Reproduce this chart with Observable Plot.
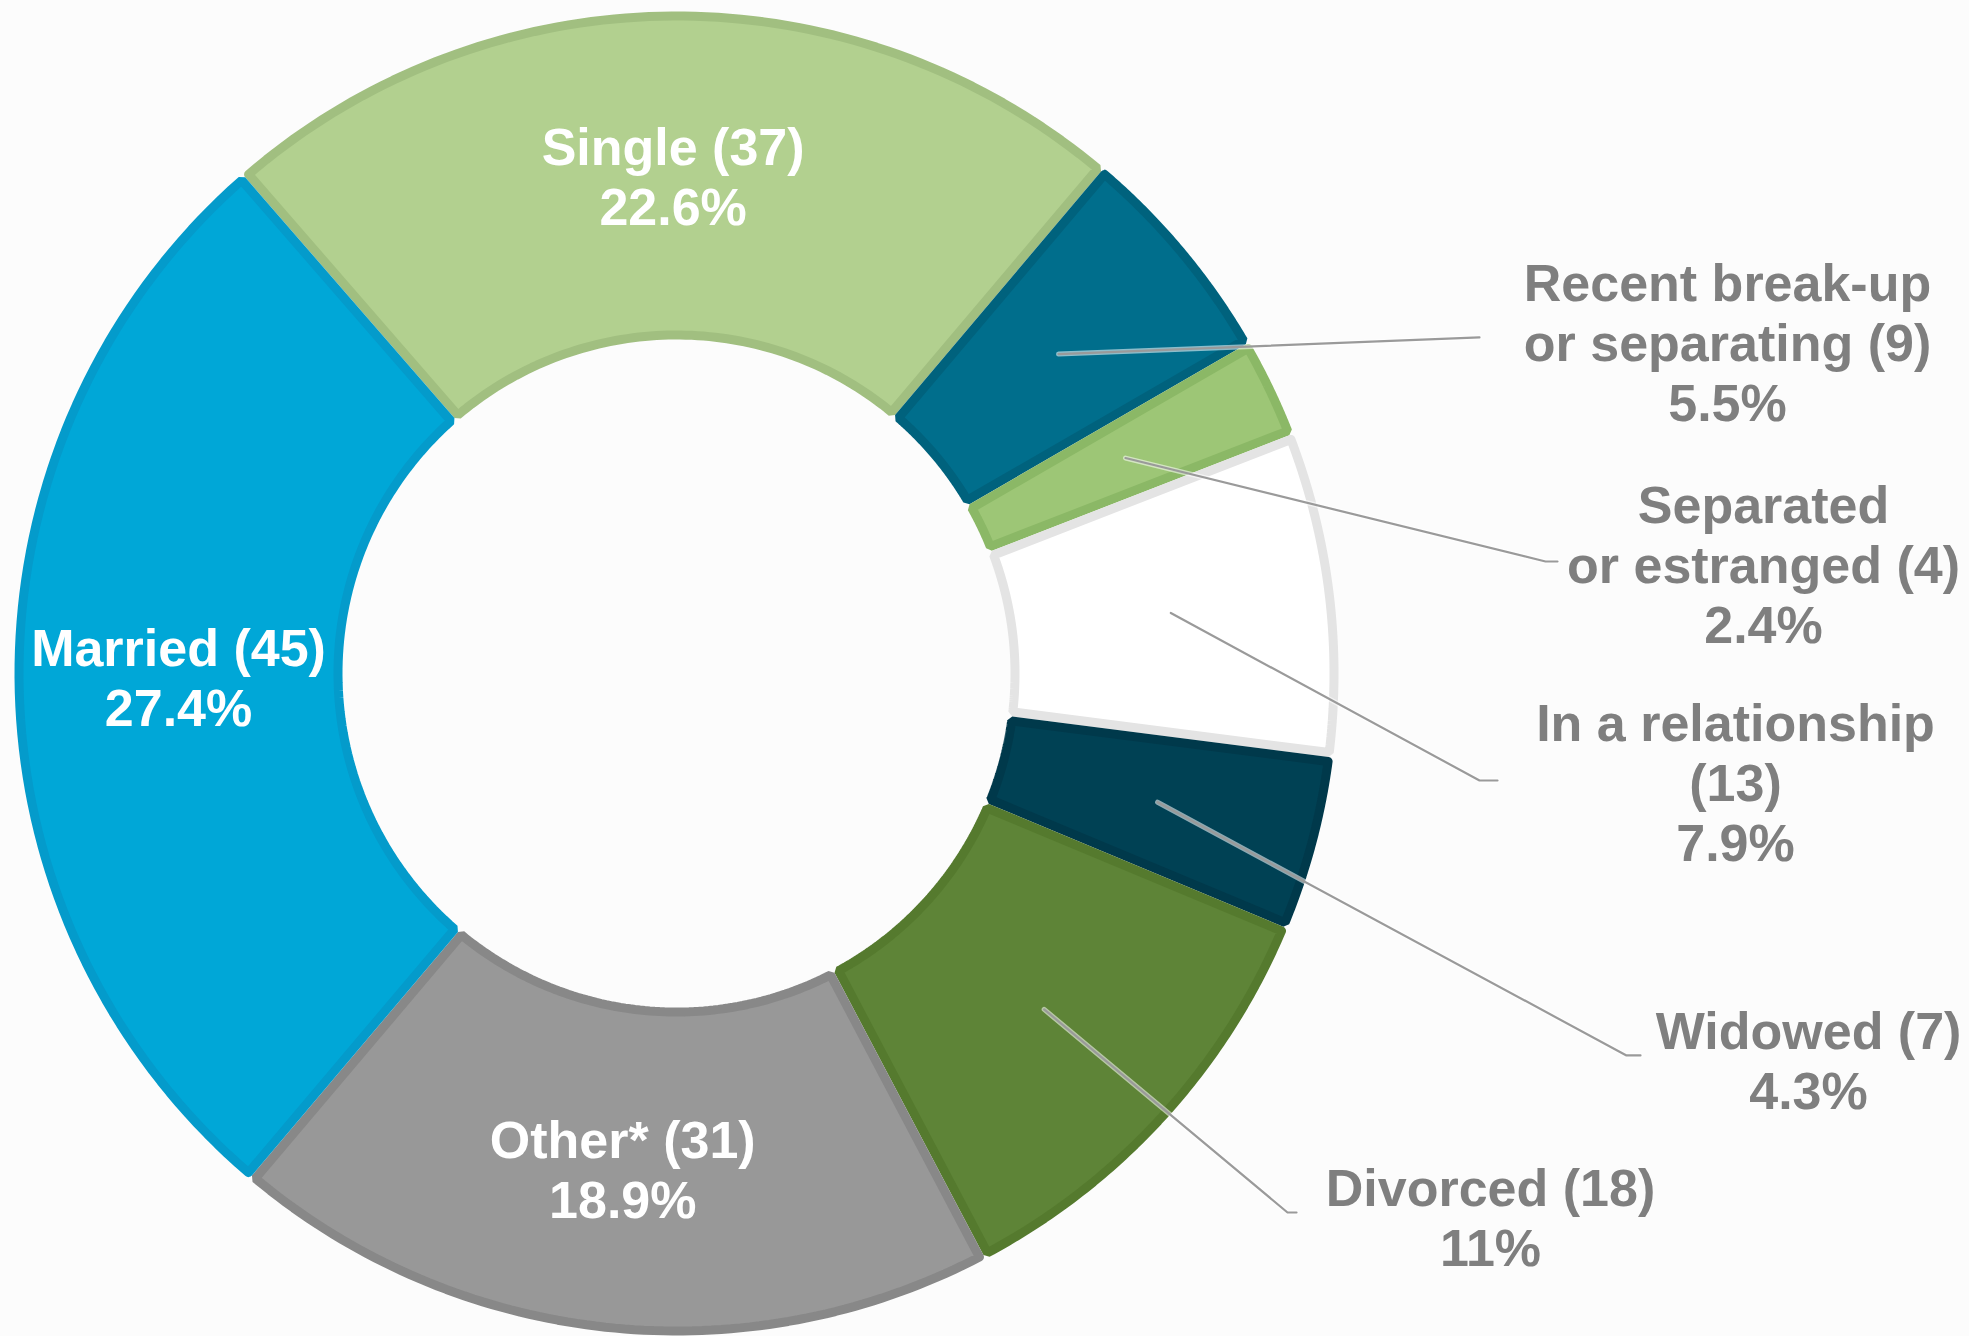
<!DOCTYPE html>
<html>
<head>
<meta charset="utf-8">
<script src="https://cdn.jsdelivr.net/npm/d3@7"></script>
<script src="https://cdn.jsdelivr.net/npm/@observablehq/plot@0.6"></script>
<style>
  html, body { margin: 0; padding: 0; background: #fcfcfc; }
  #chart { width: 1969px; height: 1336px; }
</style>
</head>
<body>
<div id="chart"></div>
<script>
// ---- Data ----
const categories = ["Single", "Recent break-up or separating", "Separated or estranged", "In a relationship", "Widowed", "Divorced", "Other*", "Married"];
const counts = [37, 9, 4, 13, 7, 18, 31, 45];
const percents = ["22.6%", "5.5%", "2.4%", "7.9%", "4.3%", "11%", "18.9%", "27.4%"];
const labelNames = ["Single (37)", "Recent break-up\nor separating (9)", "Separated\nor estranged (4)", "In a relationship\n(13)", "Widowed (7)", "Divorced (18)", "Other* (31)", "Married (45)"];
const insideLabel = [true, false, false, false, false, false, true, true];

// ---- Styles ----
const fills   = ["#b2d08f", "#006e8c", "#9dc676", "#ffffff", "#004154", "#5e8437", "#989898", "#00a7d7"];
const borders = ["#a1bf80", "#00627d", "#8bb866", "#e4e4e4", "#00394b", "#557a2e", "#888888", "#049bcb"];

// ---- Layout (unit = outer radius) ----
const W = 1969, H = 1336, cx = 676, cy = 673, R = 662;
const innerR = 334 / R;
const border = 9 / R;           // border width in units
const startDeg = -41;
// outside label anchors and leader elbows (unit coordinates, y up)
const outsideLayout = {
  "Recent break-up or separating": {label: [1.5876, 0.5015], elbow: [1.213, 0.5076], tick: [1.213, 0.5076]},
  "Separated or estranged":        {label: [1.642, 0.1662],  elbow: [1.3127, 0.1692], tick: [1.3308, 0.1692]},
  "In a relationship":             {label: [1.5997, -0.1631], elbow: [1.213, -0.1616], tick: [1.2402, -0.1616]},
  "Widowed":                       {label: [1.71, -0.5831],  elbow: [1.435, -0.577],  tick: [1.4562, -0.577]},
  "Divorced":                      {label: [1.2296, -0.8202], elbow: [0.923, -0.8142], tick: [0.9366, -0.8142]}
};

// ---- Geometry ----
const s0 = startDeg * Math.PI / 180;
const arcs = d3.pie().sort(null).value(d => d).startAngle(s0).endAngle(s0 + 2 * Math.PI)(counts);
const polar = (r, a) => [r * Math.sin(a), r * Math.cos(a)];

const d = border / 2;
const slicePts = [];
arcs.forEach((a, i) => {
  const rO = 1 - d, rI = innerR + d;
  const dO = Math.asin(d / rO), dI = Math.asin(d / rI);
  const n = 80;
  const pts = [];
  for (let k = 0; k <= n; k++) {
    const t = a.startAngle + dO + (a.endAngle - a.startAngle - 2 * dO) * k / n;
    pts.push(polar(rO, t));
  }
  for (let k = 0; k <= n; k++) {
    const t = a.endAngle - dI - (a.endAngle - a.startAngle - 2 * dI) * k / n;
    pts.push(polar(rI, t));
  }
  pts.push(pts[0]);
  pts.forEach(([x, y]) => slicePts.push({key: categories[i], x, y, fill: fills[i], stroke: borders[i]}));
});

const midR = (1 + innerR) / 2;
const inside = [], outside = [], leaders = [];
arcs.forEach((a, i) => {
  const mid = (a.startAngle + a.endAngle) / 2;
  const text = labelNames[i] + "\n" + percents[i];
  if (insideLabel[i]) {
    const [x, y] = polar(midR, mid);
    inside.push({x, y, text});
  } else {
    const L = outsideLayout[categories[i]];
    outside.push({x: L.label[0], y: L.label[1], text});
    const [sx, sy] = polar(midR, mid);
    leaders.push({key: categories[i], x: sx, y: sy});
    leaders.push({key: categories[i], x: L.elbow[0], y: L.elbow[1]});
    leaders.push({key: categories[i], x: L.tick[0], y: L.tick[1]});
  }
});

const font = "'Liberation Sans', Arial, Helvetica, sans-serif";

const chart = Plot.plot({
  width: W,
  height: H,
  margin: 0,
  style: {background: "#fcfcfc", fontFamily: font},
  x: {domain: [-cx / R, (W - cx) / R], axis: null},
  y: {domain: [-(H - cy) / R, cy / R], axis: null},
  color: {type: "identity"},
  marks: [
    Plot.line(slicePts, {x: "x", y: "y", z: "key", fill: "fill", stroke: "stroke", strokeWidth: border * R, strokeLinejoin: "miter", curve: "linear"}),
    Plot.line(leaders, {x: "x", y: "y", z: "key", stroke: "#ffffff", strokeOpacity: 0.55, strokeWidth: 5, strokeLinecap: "round"}),
    Plot.line(leaders, {x: "x", y: "y", z: "key", stroke: "#9a9a9a", strokeWidth: 2.2, strokeLinecap: "round"}),
    Plot.text(inside, {x: "x", y: "y", text: "text", fill: "white", fontSize: 52, fontWeight: "bold", lineHeight: 1.154, fontFamily: font}),
    Plot.text(outside, {x: "x", y: "y", text: "text", fill: "#7f7f7f", fontSize: 52, fontWeight: "bold", lineHeight: 1.154, fontFamily: font})
  ]
});
document.getElementById("chart").appendChild(chart);
</script>
</body>
</html>
